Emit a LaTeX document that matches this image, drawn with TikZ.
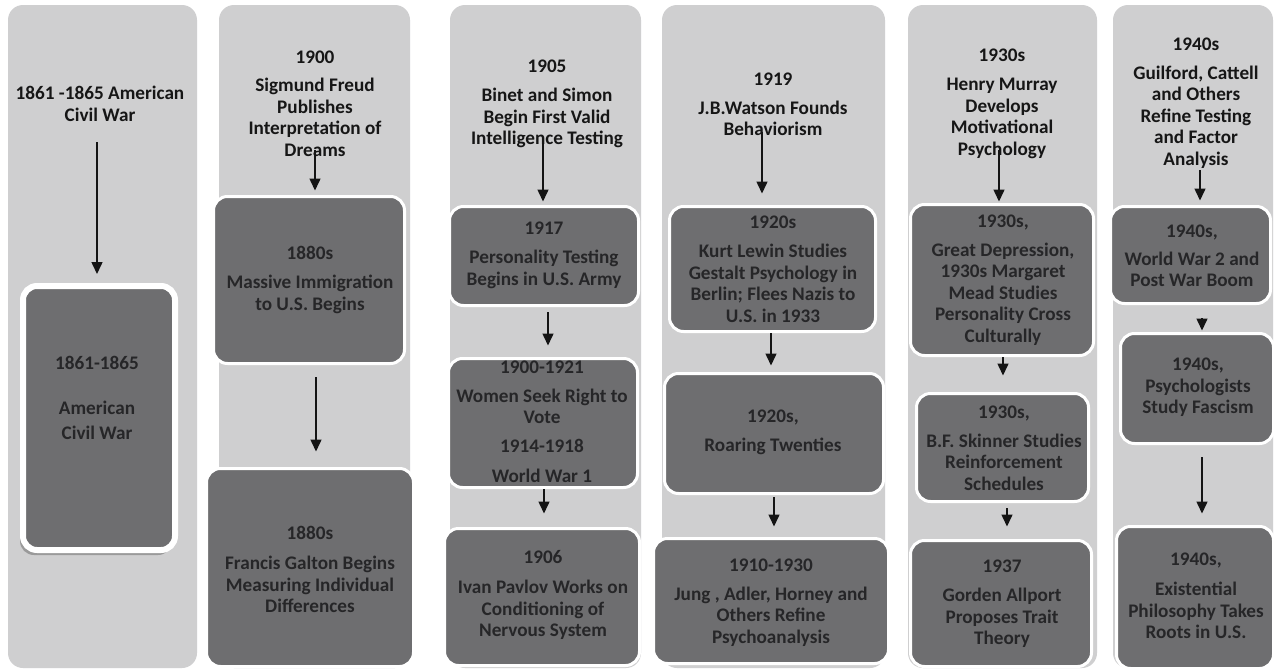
\documentclass[tikz,border=0pt]{standalone}
\usepackage{fontspec}
\setmainfont{Carlito}
\usetikzlibrary{arrows.meta,shadows}
\definecolor{colgray}{RGB}{207,207,208}
\definecolor{boxgray}{RGB}{110,110,112}
\definecolor{boxtext}{RGB}{38,38,40}
\definecolor{headtext}{RGB}{22,22,22}
\tikzset{
  colbg/.style={fill=colgray, rounded corners=15pt},
  box/.style={draw=white, line width=3pt, fill=boxgray, rounded corners=14pt, inner sep=0pt},
  txt/.style={align=center, inner sep=0pt, text=boxtext, font=\bfseries\fontsize{19.2}{21.5}\selectfont},
  head/.style={txt, text=headtext},
  arr/.style={-{Triangle[width=11pt,length=12pt]}, line width=1.5pt, draw=black!92},
}
\begin{document}
\begin{tikzpicture}[x=1pt,y=-1pt]
\useasboundingbox (0,0) rectangle (1275,672);
\fill[white] (0,0) rectangle (1275,672);
% columns
\fill[colbg] (8,5) rectangle (197,668);
\fill[colbg] (219,5) rectangle (410,668);
\fill[colbg] (450,5) rectangle (641,668);
\fill[colbg] (662,5) rectangle (885,668);
\fill[colbg] (908,5) rectangle (1097,668);
\fill[colbg] (1113,5) rectangle (1273,668);
% boxes
\node[box, line width=6pt, minimum width=152pt, minimum height=264pt,
  drop shadow={shadow xshift=-3pt, shadow yshift=-5pt, fill=black!60, opacity=.5}] (b11) at (99,418) {};
\node[box, minimum width=191pt, minimum height=167pt] (b21) at (309,280) {};
\node[box, minimum width=207pt, minimum height=198pt] (b22) at (310,567.5) {};
\node[box, minimum width=189pt, minimum height=99pt] (b31) at (544,256) {};
\node[box, minimum width=189pt, minimum height=129pt] (b32) at (543,423) {};
\node[box, minimum width=195pt, minimum height=137pt] (b33) at (542,597) {};
\node[box, minimum width=206pt, minimum height=125pt] (b41) at (772.5,269) {};
\node[box, minimum width=219pt, minimum height=120pt] (b42) at (774,433.5) {};
\node[box, minimum width=235pt, minimum height=125pt] (b43) at (771,601) {};
\node[box, minimum width=183pt, minimum height=151pt] (b51) at (1002,280) {};
\node[box, minimum width=172pt, minimum height=108pt] (b52) at (1002.5,447.5) {};
\node[box, minimum width=181pt, minimum height=126pt] (b53) at (1001,603.5) {};
\node[box, minimum width=160pt, minimum height=97pt] (b61) at (1190.5,255) {};
\node[box, minimum width=153pt, minimum height=110pt] (b62) at (1197,388.5) {};
\node[box, minimum width=157pt, minimum height=142pt] (b63) at (1195,597.5) {};
% headers
\node[head] (h1) at (100,104) {1861 -1865 American\\Civil War};
\node[head] (h2) at (315,104) {1900\\[6.5pt]Sigmund Freud\\Publishes\\Interpretation of\\Dreams};
\node[head] (h3) at (547,104) {1905\\[7.5pt]Binet and Simon\\Begin First Valid\\Intelligence Testing};
\node[head] (h4) at (773,104.5) {1919\\[7.5pt]J.B.Watson Founds\\Behaviorism};
\node[head] (h5) at (1002,104) {1930s\\[7.5pt]Henry Murray\\Develops\\Motivational\\Psychology};
\node[head] (h6) at (1196,103) {1940s\\[7.5pt]Guilford, Cattell\\and Others\\Refine Testing\\and Factor\\Analysis};
% box texts
\node[txt] (t11) at (97,398) {1861-1865\\[23.5pt]American\\[3.5pt]Civil War};
\node[txt] (t21) at (310,280) {1880s\\[7.5pt]Massive Immigration\\to U.S. Begins};
\node[txt] (t22) at (310,569.5) {1880s\\[8.5pt]Francis Galton Begins\\Measuring Individual\\Differences};
\node[txt] (t31) at (544,255.5) {1917\\[7.5pt]Personality Testing\\Begins in U.S. Army};
\node[txt] (t32) at (542,422) {1900-1921\\[7.5pt]Women Seek Right to\\Vote\\[7.5pt]1914-1918\\[8.5pt]World War 1};
\node[txt] (t33) at (543,595) {1906\\[8.5pt]Ivan Pavlov Works on\\Conditioning of\\Nervous System};
\node[txt] (t41) at (773,269.5) {1920s\\[7.5pt]Kurt Lewin Studies\\Gestalt Psychology in\\Berlin; Flees Nazis to\\U.S. in 1933};
\node[txt] (t42) at (773,432.5) {1920s,\\[7.5pt]Roaring Twenties};
\node[txt] (t43) at (771,602.5) {1910-1930\\[7.5pt]Jung , Adler, Horney and\\Others Refine\\Psychoanalysis};
\node[txt] (t51) at (1003,280) {1930s,\\[7.5pt]Great Depression,\\1930s Margaret\\Mead Studies\\Personality Cross\\Culturally};
\node[txt] (t52) at (1004,448) {1930s,\\[7.5pt]B.F. Skinner Studies\\Reinforcement\\Schedules};
\node[txt] (t53) at (1002,604) {1937\\[7.5pt]Gorden Allport\\Proposes Trait\\Theory};
\node[txt] (t61) at (1192,256) {1940s,\\[6.5pt]World War 2 and\\Post War Boom};
\node[txt] (t62) at (1198,387.5) {1940s,\\Psychologists\\Study Fascism};
\node[txt] (t63) at (1196,596) {1940s,\\[8.5pt]Existential\\Philosophy Takes\\Roots in U.S.};
% arrow start points
\coordinate (s1) at (97,142);
\coordinate (s2) at (315,150);
\coordinate (s3) at (316,377);
\coordinate (s4) at (543,143);
\coordinate (s5) at (548,312);
\coordinate (s6) at (544,489);
\coordinate (s7) at (762,132);
\coordinate (s8) at (771,333);
\coordinate (s9) at (774,497);
\coordinate (s10) at (999,150);
\coordinate (s11) at (1003,357);
\coordinate (s12) at (1007,508);
\coordinate (s13) at (1200,170);
\coordinate (s14) at (1202,318);
\coordinate (s15) at (1202,457);
% arrows
\draw[arr, shorten >=9pt] (s1) -- (s1 |- b11.north);
\draw[arr, shorten >=4.5pt] (s2) -- (s2 |- b21.north);
\draw[arr, shorten >=15.5pt] (s3) -- (s3 |- b22.north);
\draw[arr, shorten >=3.5pt] (s4) -- (s4 |- b31.north);
\draw[arr, shorten >=11.5pt] (s5) -- (s5 |- b32.north);
\draw[arr, shorten >=13.5pt] (s6) -- (s6 |- b33.north);
\draw[arr, shorten >=11.5pt] (s7) -- (s7 |- b41.north);
\draw[arr, shorten >=6.5pt] (s8) -- (s8 |- b42.north);
\draw[arr, shorten >=10.5pt] (s9) -- (s9 |- b43.north);
\draw[arr, shorten >=1.5pt] (s10) -- (s10 |- b51.north);
\draw[arr, shorten >=16.5pt] (s11) -- (s11 |- b52.north);
\draw[arr, shorten >=12.5pt] (s12) -- (s12 |- b53.north);
\draw[arr, shorten >=4.5pt] (s13) -- (s13 |- b61.north);
\draw[arr, shorten >=1.5pt] (s14) -- (s14 |- b62.north);
\draw[arr, shorten >=11.5pt] (s15) -- (s15 |- b63.north);
\end{tikzpicture}
\end{document}
